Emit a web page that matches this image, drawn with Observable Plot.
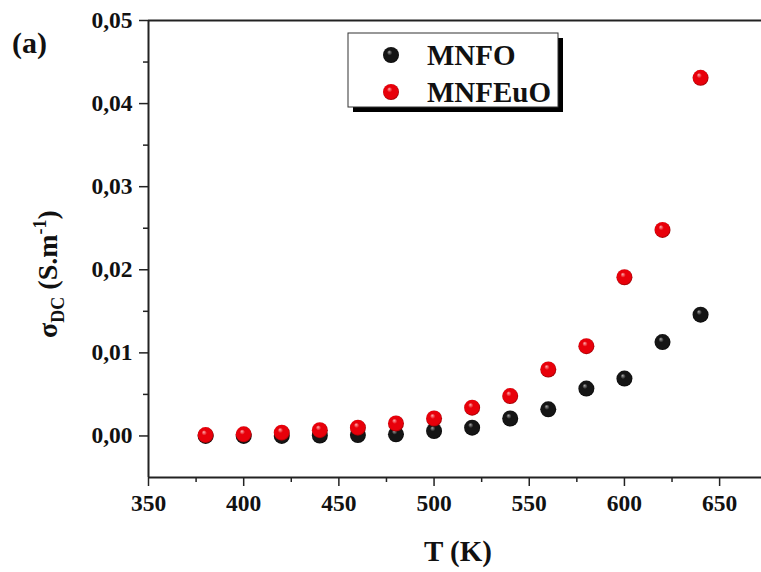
<!DOCTYPE html>
<html>
<head>
<meta charset="utf-8">
<script src="https://cdn.jsdelivr.net/npm/d3@7"></script>
<script src="https://cdn.jsdelivr.net/npm/@observablehq/plot@0.6"></script>
<style>
  html, body { margin: 0; padding: 0; background: #fff; }
  #chart { width: 761px; height: 572px; }
</style>
</head>
<body>
<div id="chart"></div>
<script>
const temperatures = [380, 400, 420, 440, 460, 480, 500, 520, 540, 560, 580, 600, 620, 640];
const mnfo   = [0.0000, 0.0000, 0.0000, 0.00005, 0.0001, 0.0002, 0.0006, 0.0010, 0.0021, 0.0032, 0.0057, 0.0069, 0.0113, 0.0146];
const mnfeuo = [0.0001, 0.0002, 0.0004, 0.0007, 0.0010, 0.0015, 0.0021, 0.0034, 0.0048, 0.0080, 0.0108, 0.0191, 0.0248, 0.0431];
const seriesNames = ["MNFO", "MNFEuO"];
const xTicks = [350, 400, 450, 500, 550, 600, 650];
const xMinor = [375, 425, 475, 525, 575, 625];
const yTicks = [0.00, 0.01, 0.02, 0.03, 0.04, 0.05];
const yMinor = [0.005, 0.015, 0.025, 0.035, 0.045];

const rows = [];
temperatures.forEach((t, i) => {
  rows.push({T: t, s: mnfo[i], series: seriesNames[0]});
});
temperatures.forEach((t, i) => {
  rows.push({T: t, s: mnfeuo[i], series: seriesNames[1]});
});

const FONT = "'Liberation Serif', 'Times New Roman', serif";
const axisColor = "#222";
const fmtY = d => d3.format(".2f")(d).replace(".", ",");

const plot = Plot.plot({
  width: 761,
  height: 572,
  marginLeft: 148,
  marginRight: 0,
  marginTop: 20,
  marginBottom: 95,
  style: {fontFamily: FONT, fontWeight: "bold", fontSize: "23px", color: "#111", background: "#fff"},
  x: {domain: [350, 672]},
  y: {domain: [-0.005, 0.05]},
  marks: [
    Plot.axisX({ticks: xMinor, tickSize: 5, text: null, stroke: axisColor, strokeWidth: 1.5, label: null}),
    Plot.axisX({ticks: xTicks, tickSize: 9, tickPadding: 8, tickFormat: d => String(d), stroke: axisColor, strokeWidth: 1.5, label: null, fontSize: 23.5, fontWeight: "bold", fill: "#111"}),
    Plot.axisY({ticks: yMinor, tickSize: 5, text: null, stroke: axisColor, strokeWidth: 1.5, label: null}),
    Plot.axisY({ticks: yTicks, tickSize: 9, tickPadding: 7, tickFormat: fmtY, stroke: axisColor, strokeWidth: 1.5, label: null, fontSize: 23.5, fontWeight: "bold", fill: "#111"}),
    Plot.ruleX([350], {stroke: axisColor, strokeWidth: 2}),
    Plot.ruleY([-0.005], {stroke: axisColor, strokeWidth: 2}),
    Plot.ruleY([0.05], {stroke: axisColor, strokeWidth: 2}),
    Plot.dot(rows.filter(d => d.series === "MNFO"), {x: "T", y: "s", r: 8, fill: "url(#ballBlack)", stroke: "none"}),
    Plot.dot(rows.filter(d => d.series === "MNFEuO"), {x: "T", y: "s", r: 8, fill: "url(#ballRed)", stroke: "none"})
  ]
});

document.getElementById("chart").appendChild(plot);

const svg = d3.select(plot);
const defs = svg.insert("defs", ":first-child");
function ball(id, light, mid, dark) {
  const g = defs.append("radialGradient").attr("id", id)
    .attr("cx", "0.5").attr("cy", "0.5").attr("r", "0.55")
    .attr("fx", "0.38").attr("fy", "0.3");
  g.append("stop").attr("offset", "0%").attr("stop-color", light);
  g.append("stop").attr("offset", "30%").attr("stop-color", mid);
  g.append("stop").attr("offset", "80%").attr("stop-color", mid);
  g.append("stop").attr("offset", "100%").attr("stop-color", dark);
}
ball("ballRed", "#ffb0b0", "#e8000a", "#6a0000");
ball("ballBlack", "#a8a8a8", "#151515", "#000000");

function txt(sel) {
  return sel.style("font-family", FONT).style("font-weight", "bold").attr("fill", "#111");
}

// Legend
const lg = svg.append("g");
lg.append("rect").attr("x", 353).attr("y", 38).attr("width", 210).attr("height", 74).attr("fill", "#000");
lg.append("rect").attr("x", 348).attr("y", 33).attr("width", 210).attr("height", 74).attr("fill", "#fff").attr("stroke", "#333").attr("stroke-width", 1);
const legendItems = [{name: seriesNames[0], fill: "url(#ballBlack)", y: 55}, {name: seriesNames[1], fill: "url(#ballRed)", y: 92}];
legendItems.forEach(it => {
  lg.append("circle").attr("cx", 391).attr("cy", it.y).attr("r", 8).attr("fill", it.fill);
  txt(lg.append("text")).attr("x", 427).attr("y", it.y).attr("dy", "0.35em")
    .attr("text-anchor", "start").style("font-size", "29px")
    .text(it.name);
});

// Axis titles and panel label
txt(svg.append("text")).attr("x", 458).attr("y", 561).attr("text-anchor", "middle")
  .style("font-size", "29px").text("T (K)");

const yl = txt(svg.append("text")).attr("transform", "translate(57,274) rotate(-90)").attr("text-anchor", "middle")
  .style("font-size", "28px");
yl.append("tspan").text("σ");
yl.append("tspan").style("font-size", "18px").attr("dy", 7).text("DC");
yl.append("tspan").attr("dy", -7).text(" (S.m");
yl.append("tspan").style("font-size", "18px").attr("dy", -11).text("-1");
yl.append("tspan").attr("dy", 11).text(")");

txt(svg.append("text")).attr("x", 12).attr("y", 53).attr("text-anchor", "start")
  .style("font-size", "30px").text("(a)");
</script>
</body>
</html>
